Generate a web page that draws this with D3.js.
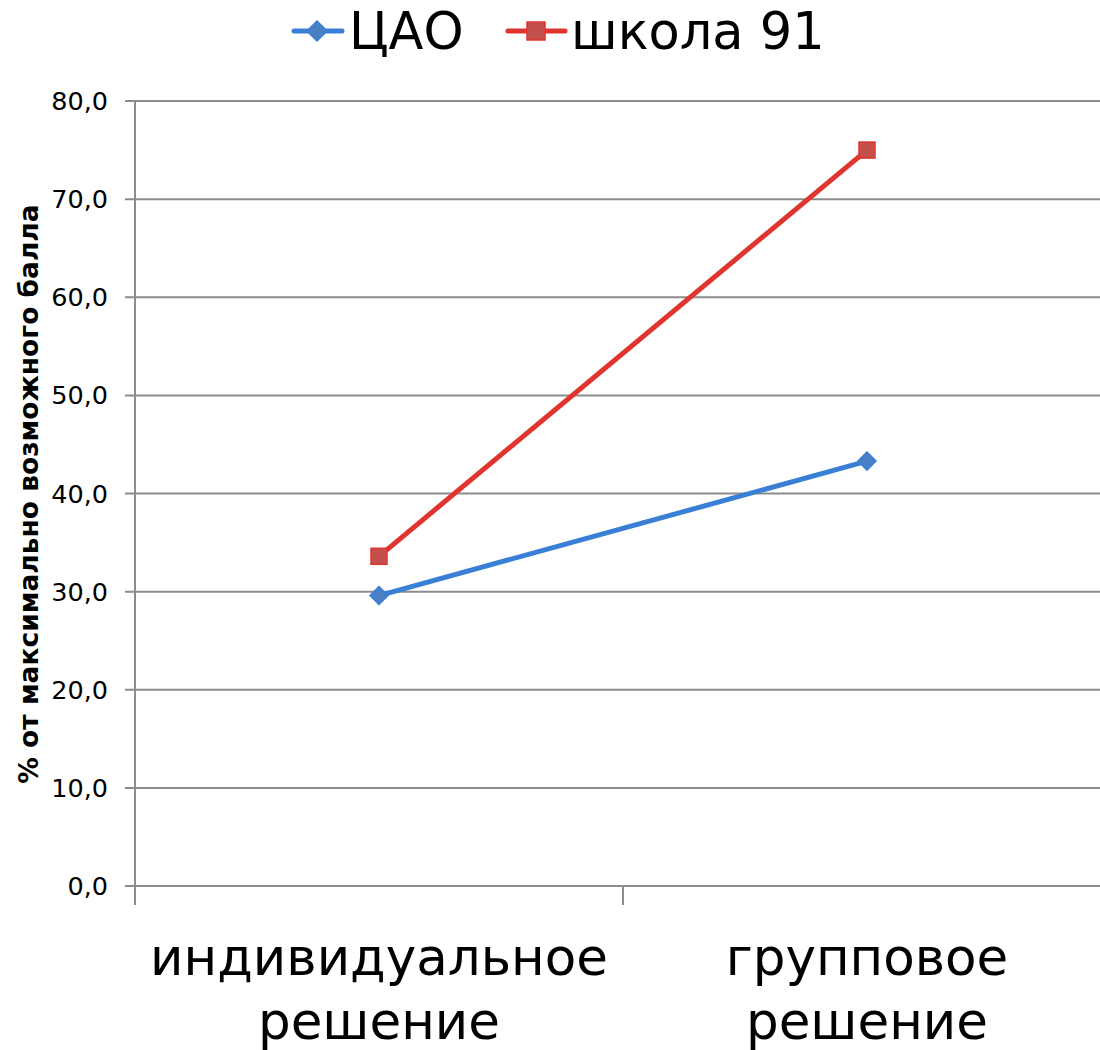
<!DOCTYPE html>
<html><head><meta charset="utf-8">
<script src="https://cdn.jsdelivr.net/npm/d3@7"></script>
<style>body{margin:0;background:#fff}svg{display:block;font-family:"DejaVu Sans",Verdana,sans-serif}</style>
</head><body>
<svg id="c" width="1100" height="1050"></svg>
<script>
const categories = [["индивидуальное","решение"],["групповое","решение"]];
const seriesNames = ["ЦАО","школа 91"];
const caoValues = [29.6, 43.3];
const schoolValues = [33.6, 75.0];
const yTicks = [0,10,20,30,40,50,60,70,80];
const yTitle = "% от максимально возможного балла";

(function(){
const svg = d3.select("#c");
const pL = 135, pR = 1111, pT = 101, pB = 886;
const x = d3.scaleBand().domain([0,1]).range([pL,pR]);
const y = d3.scaleLinear().domain([0,80]).range([pB,pT]);
const fmt = d => d.toFixed(1).replace(".", ",");

svg.append("g").selectAll("line").data(yTicks).join("line")
  .attr("x1", pL-10).attr("x2", 1100)
  .attr("y1", d=>y(d)).attr("y2", d=>y(d))
  .attr("stroke","#8c8c8c").attr("stroke-width",2);
svg.append("line").attr("x1",pL).attr("x2",pL).attr("y1",pT).attr("y2",pB+19)
  .attr("stroke","#8c8c8c").attr("stroke-width",2);
svg.append("line").attr("x1",x(1)).attr("x2",x(1)).attr("y1",pB).attr("y2",pB+19)
  .attr("stroke","#8c8c8c").attr("stroke-width",2);

svg.append("g").selectAll("text").data(yTicks).join("text")
  .attr("x",108).attr("y",d=>y(d)+9).attr("text-anchor","end")
  .attr("font-size",25.5).attr("fill","#000").text(fmt);

svg.append("text").attr("transform","translate(38,494) rotate(-90)")
  .attr("text-anchor","middle").attr("font-size",26.5).attr("font-weight","bold").text(yTitle);

categories.forEach((c,i)=>{
  c.forEach((line,j)=>{
    svg.append("text").attr("x",x(i)+x.bandwidth()/2).attr("y",975+j*64)
      .attr("text-anchor","middle").attr("font-size",51.5).text(line);
  });
});

const cx = i => x(i)+x.bandwidth()/2;
const lineGen = d3.line().x((d,i)=>cx(i)).y(d=>y(d));
const blue = "#3a7fd6", red = "#e0342f";
svg.append("path").datum(schoolValues).attr("d",lineGen).attr("fill","none")
  .attr("stroke",red).attr("stroke-width",5);
svg.append("path").datum(caoValues).attr("d",lineGen).attr("fill","none")
  .attr("stroke",blue).attr("stroke-width",5);

const diamond = (g,px,py,s)=>g.append("path")
  .attr("d",`M${px},${py-s}L${px+s},${py}L${px},${py+s}L${px-s},${py}Z`)
  .attr("fill","#4a7fc4").attr("stroke",blue).attr("stroke-width",1.5);
const square = (g,px,py,s)=>g.append("rect").attr("x",px-s).attr("y",py-s)
  .attr("width",2*s).attr("height",2*s).attr("fill","#c4504b").attr("stroke",red).attr("stroke-width",1.5);

schoolValues.forEach((v,i)=>square(svg,cx(i),y(v),8));
caoValues.forEach((v,i)=>diamond(svg,cx(i),y(v),9));

const lg = svg.append("g");
lg.append("line").attr("x1",294).attr("x2",342).attr("y1",31).attr("y2",31).attr("stroke",blue).attr("stroke-width",5).attr("stroke-linecap","round");
diamond(lg,317,31,10);
lg.append("text").attr("x",349).attr("y",49).attr("font-size",51).text(seriesNames[0]);
lg.append("line").attr("x1",508).attr("x2",565).attr("y1",31).attr("y2",31).attr("stroke",red).attr("stroke-width",5).attr("stroke-linecap","round");
square(lg,536,31,9);
lg.append("text").attr("x",571).attr("y",49).attr("font-size",51).text(seriesNames[1]);
})();
</script>
</body></html>
